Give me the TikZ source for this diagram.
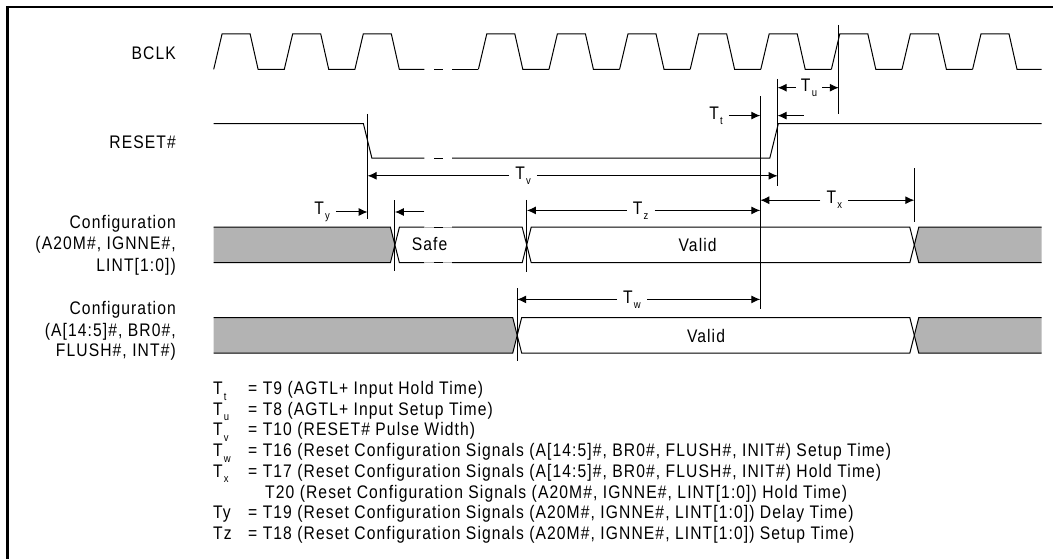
\documentclass[tikz,border=0pt]{standalone}
\usepackage{fontspec}
\setmainfont{Liberation Sans}[FakeStretch=0.86, LetterSpace=6.0]
\usetikzlibrary{arrows.meta}
\newcommand\TSub[1]{T\kern1.2pt\raisebox{-5pt}{\fontsize{11}{11}\selectfont #1}}
\definecolor{busgray}{HTML}{B3B3B3}
\begin{document}
\begin{tikzpicture}[x=1pt,y=-1pt,
  sig/.style={line width=1pt, line join=miter},
  vline/.style={line width=1pt},
  dim/.style={line width=1pt, -{Latex[length=9pt,width=8pt]}},
  lbl/.style={inner ysep=0pt, inner xsep=6pt, font=\fontsize{18.2}{22}\selectfont},
  txt/.style={inner sep=0pt, font=\fontsize{18.2}{22}\selectfont},
  busline/.style={line width=1pt},
  gapline/.style={line width=1pt, draw=black!30}]
\useasboundingbox (0,0) rectangle (1053,559);
% frame
\draw[line width=2pt] (7.3,7) -- (1053,7);
\draw[line width=2.4pt] (7.3,6) -- (7.3,559);

% signal names
\node[txt, anchor=base east] (nBCLK) at (176,59.8) {BCLK};
\node[txt, anchor=base east] (nRESET) at (176,148.2) {RESET\#};
\node[txt, anchor=base east] (nC1a) at (176,228.2) {Configuration};
\node[txt, anchor=base east] (nC1b) at (176,249.4) {(A20M\#, IGNNE\#,};
\node[txt, anchor=base east] (nC1c) at (176,271.5) {LINT[1:0])};
\node[txt, anchor=base east] (nC2a) at (176,314.8) {Configuration};
\node[txt, anchor=base east] (nC2b) at (176,336) {(A[14:5]\#, BR0\#,};
\node[txt, anchor=base east] (nC2c) at (176,356.9) {FLUSH\#, INT\#)};

% BCLK
\draw[sig] (213.7,69.3) -- (222.1,33.8) -- (250.1,33.8) -- (258.1,69.3) -- (284.3,69.3)
  -- (292.7,33.8) -- (320.7,33.8) -- (328.7,69.3) -- (354.9,69.3)
  -- (363.3,33.8) -- (391.3,33.8) -- (399.3,69.3) -- (424.3,69.3);
\draw[sig] (434.4,69.3) -- (442.9,69.3);
\draw[sig] (452,69.3) -- (478.4,69.3);
\foreach \r in {486.8,557.4,628.0,698.6,769.2,839.8,910.4}
  \draw[sig] ({\r-8.4},69.3) -- (\r,33.8) -- ({\r+28},33.8) -- ({\r+36},69.3) -- ({\r+62.2},69.3);
\draw[sig] (972.6,69.3) -- (981,33.8) -- (1009,33.8) -- (1017,69.3) -- (1041.7,69.3);

% RESET#
\draw[sig] (213.7,123.7) -- (363.4,123.7) -- (371.9,158.2) -- (424.3,158.2);
\draw[sig] (434.4,158.2) -- (442.9,158.2);
\draw[sig] (452,158.2) -- (769.8,158.2) -- (778.3,123.7) -- (1041.7,123.7);

% Bus 1
\fill[busgray] (213.7,227.2) -- (390.4,227.2) -- (394.9,245) -- (390.4,262.7) -- (213.7,262.7) -- cycle;
\fill[busgray] (918.8,227.2) -- (1041.7,227.2) -- (1041.7,262.7) -- (918.8,262.7) -- (914.3,245) -- cycle;
\draw[busline] (213.7,227.2) -- (390.4,227.2) -- (399.4,262.7) -- (424.3,262.7);
\draw[busline] (213.7,262.7) -- (390.4,262.7) -- (399.4,227.2) -- (424.3,227.2);
\draw[gapline] (424.3,227.2) -- (434.4,227.2) (442.9,227.2) -- (452,227.2)
               (424.3,262.7) -- (434.4,262.7) (442.9,262.7) -- (452,262.7);
\draw[busline] (434.4,227.2) -- (442.9,227.2) (434.4,262.7) -- (442.9,262.7);
\draw[busline] (452,227.2) -- (522.2,227.2) -- (531.2,262.7) -- (909.8,262.7) -- (918.8,227.2) -- (1041.7,227.2);
\draw[busline] (452,262.7) -- (522.2,262.7) -- (531.2,227.2) -- (909.8,227.2) -- (918.8,262.7) -- (1041.7,262.7);
\node[txt] (safe) at (429.5,244.5) {Safe};
\node[txt] (valid1) at (697.6,244.5) {Valid};

% Bus 2
\fill[busgray] (213.7,317.5) -- (512.7,317.5) -- (517.2,335.3) -- (512.7,353.2) -- (213.7,353.2) -- cycle;
\fill[busgray] (918.8,317.5) -- (1041.7,317.5) -- (1041.7,353.2) -- (918.8,353.2) -- (914.3,335.3) -- cycle;
\draw[busline] (213.7,317.5) -- (512.7,317.5) -- (521.7,353.2) -- (909.8,353.2) -- (918.8,317.5) -- (1041.7,317.5);
\draw[busline] (213.7,353.2) -- (512.7,353.2) -- (521.7,317.5) -- (909.8,317.5) -- (918.8,353.2) -- (1041.7,353.2);
\node[txt] (valid2) at (706,335.8) {Valid};

% reference vertical lines
\coordinate (vFt) at (367.6,113.9); \coordinate (vFb) at (367.6,218.7);
\coordinate (vClkT) at (838.8,24.8); \coordinate (vClkB) at (838.8,113.9);
\coordinate (vRt) at (777.6,78.9);  \coordinate (vRb) at (777.6,186.3);
\coordinate (vLt) at (760.3,96.2);  \coordinate (vLb) at (760.3,309);
\coordinate (vSt) at (394.9,200.1); \coordinate (vSb) at (394.9,271);
\coordinate (vVt) at (526.9,200);   \coordinate (vVb) at (526.9,271.6);
\coordinate (vXt) at (914.3,168.3); \coordinate (vXb) at (914.3,222.3);
\coordinate (vWt) at (517.2,288);   \coordinate (vWb) at (517.2,361);
\foreach \a/\b in {vFt/vFb,vClkT/vClkB,vRt/vRb,vLt/vLb,vSt/vSb,vVt/vVb,vXt/vXb,vWt/vWb}
  \draw[vline] (\a) -- (\b);

% Tu
\node[lbl, inner xsep=5pt] (Tu) at (809,87.7) {\TSub{u}};
\draw[dim] (Tu.west) -- (vRt |- Tu);
\draw[dim] (Tu.east) -- (vClkT |- Tu);
% Tt
\node[lbl, inner xsep=6pt] (Tt) at (716,115.6) {\TSub{t}};
\coordinate (TtR) at (803.8,115.6);
\draw[dim] (Tt.east) -- (vLt |- Tt);
\draw[dim] (TtR) -- (vRt |- TtR);
% Tv
\node[lbl, inner xsep=6pt] (Tv) at (523,175.8) {\TSub{v}};
\draw[dim] (Tv.west) -- (vFt |- Tv);
\draw[dim] (Tv.east) -- (vRt |- Tv);
% Ty
\node[lbl, inner xsep=6pt] (Ty) at (322,212) {\TSub{y}};
\coordinate (TyR) at (424.3,212);
\draw[dim] (Ty.east) -- (vFt |- Ty);
\draw[dim] (TyR) -- (vSt |- TyR);
% Tz
\node[lbl, inner xsep=6pt] (Tz) at (640.7,210.4) {\TSub{z}};
\draw[dim] (Tz.west) -- (vVt |- Tz);
\draw[dim] (Tz.east) -- (vLt |- Tz);
% Tx
\node[lbl, inner xsep=6pt] (Tx) at (834.4,200.2) {\TSub{x}};
\draw[dim] (Tx.west) -- (vLt |- Tx);
\draw[dim] (Tx.east) -- (vXt |- Tx);
% Tw
\node[lbl, inner xsep=6pt] (Tw) at (632,299.4) {\TSub{w}};
\draw[dim] (Tw.west) -- (vWt |- Tw);
\draw[dim] (Tw.east) -- (vLt |- Tw);

% legend
\newcommand\LSub[1]{T\kern1.2pt\raisebox{-5.5pt}{\fontsize{11}{11}\selectfont #1}}
\node[txt, anchor=base west] (k1) at (213,394.5) {\LSub{t}};
\node[txt, anchor=base west] (d1) at (248,394.5) {= T9 (AGTL+ Input Hold Time)};
\node[txt, anchor=base west] (k2) at (213,415.2) {\LSub{u}};
\node[txt, anchor=base west] (d2) at (248,415.2) {= T8 (AGTL+ Input Setup Time)};
\node[txt, anchor=base west] (k3) at (213,435.9) {\LSub{v}};
\node[txt, anchor=base west] (d3) at (248,435.9) {= T10 (RESET\# Pulse Width)};
\node[txt, anchor=base west] (k4) at (213,456.5) {\LSub{w}};
\node[txt, anchor=base west] (d4) at (248,456.5) {= T16 (Reset Configuration Signals (A[14:5]\#, BR0\#, FLUSH\#, INIT\#) Setup Time)};
\node[txt, anchor=base west] (k5) at (213,477.3) {\LSub{x}};
\node[txt, anchor=base west] (d5) at (248,477.3) {= T17 (Reset Configuration Signals (A[14:5]\#, BR0\#, FLUSH\#, INIT\#) Hold Time)};
\node[txt, anchor=base west] (d6) at (265,498) {T20 (Reset Configuration Signals (A20M\#, IGNNE\#, LINT[1:0]) Hold Time)};
\node[txt, anchor=base west] (k7) at (213,518.5) {Ty};
\node[txt, anchor=base west] (d7) at (248,518.5) {= T19 (Reset Configuration Signals (A20M\#, IGNNE\#, LINT[1:0]) Delay Time)};
\node[txt, anchor=base west] (k8) at (213,539.5) {Tz};
\node[txt, anchor=base west] (d8) at (248,539.5) {= T18 (Reset Configuration Signals (A20M\#, IGNNE\#, LINT[1:0]) Setup Time)};
\end{tikzpicture}
\end{document}
